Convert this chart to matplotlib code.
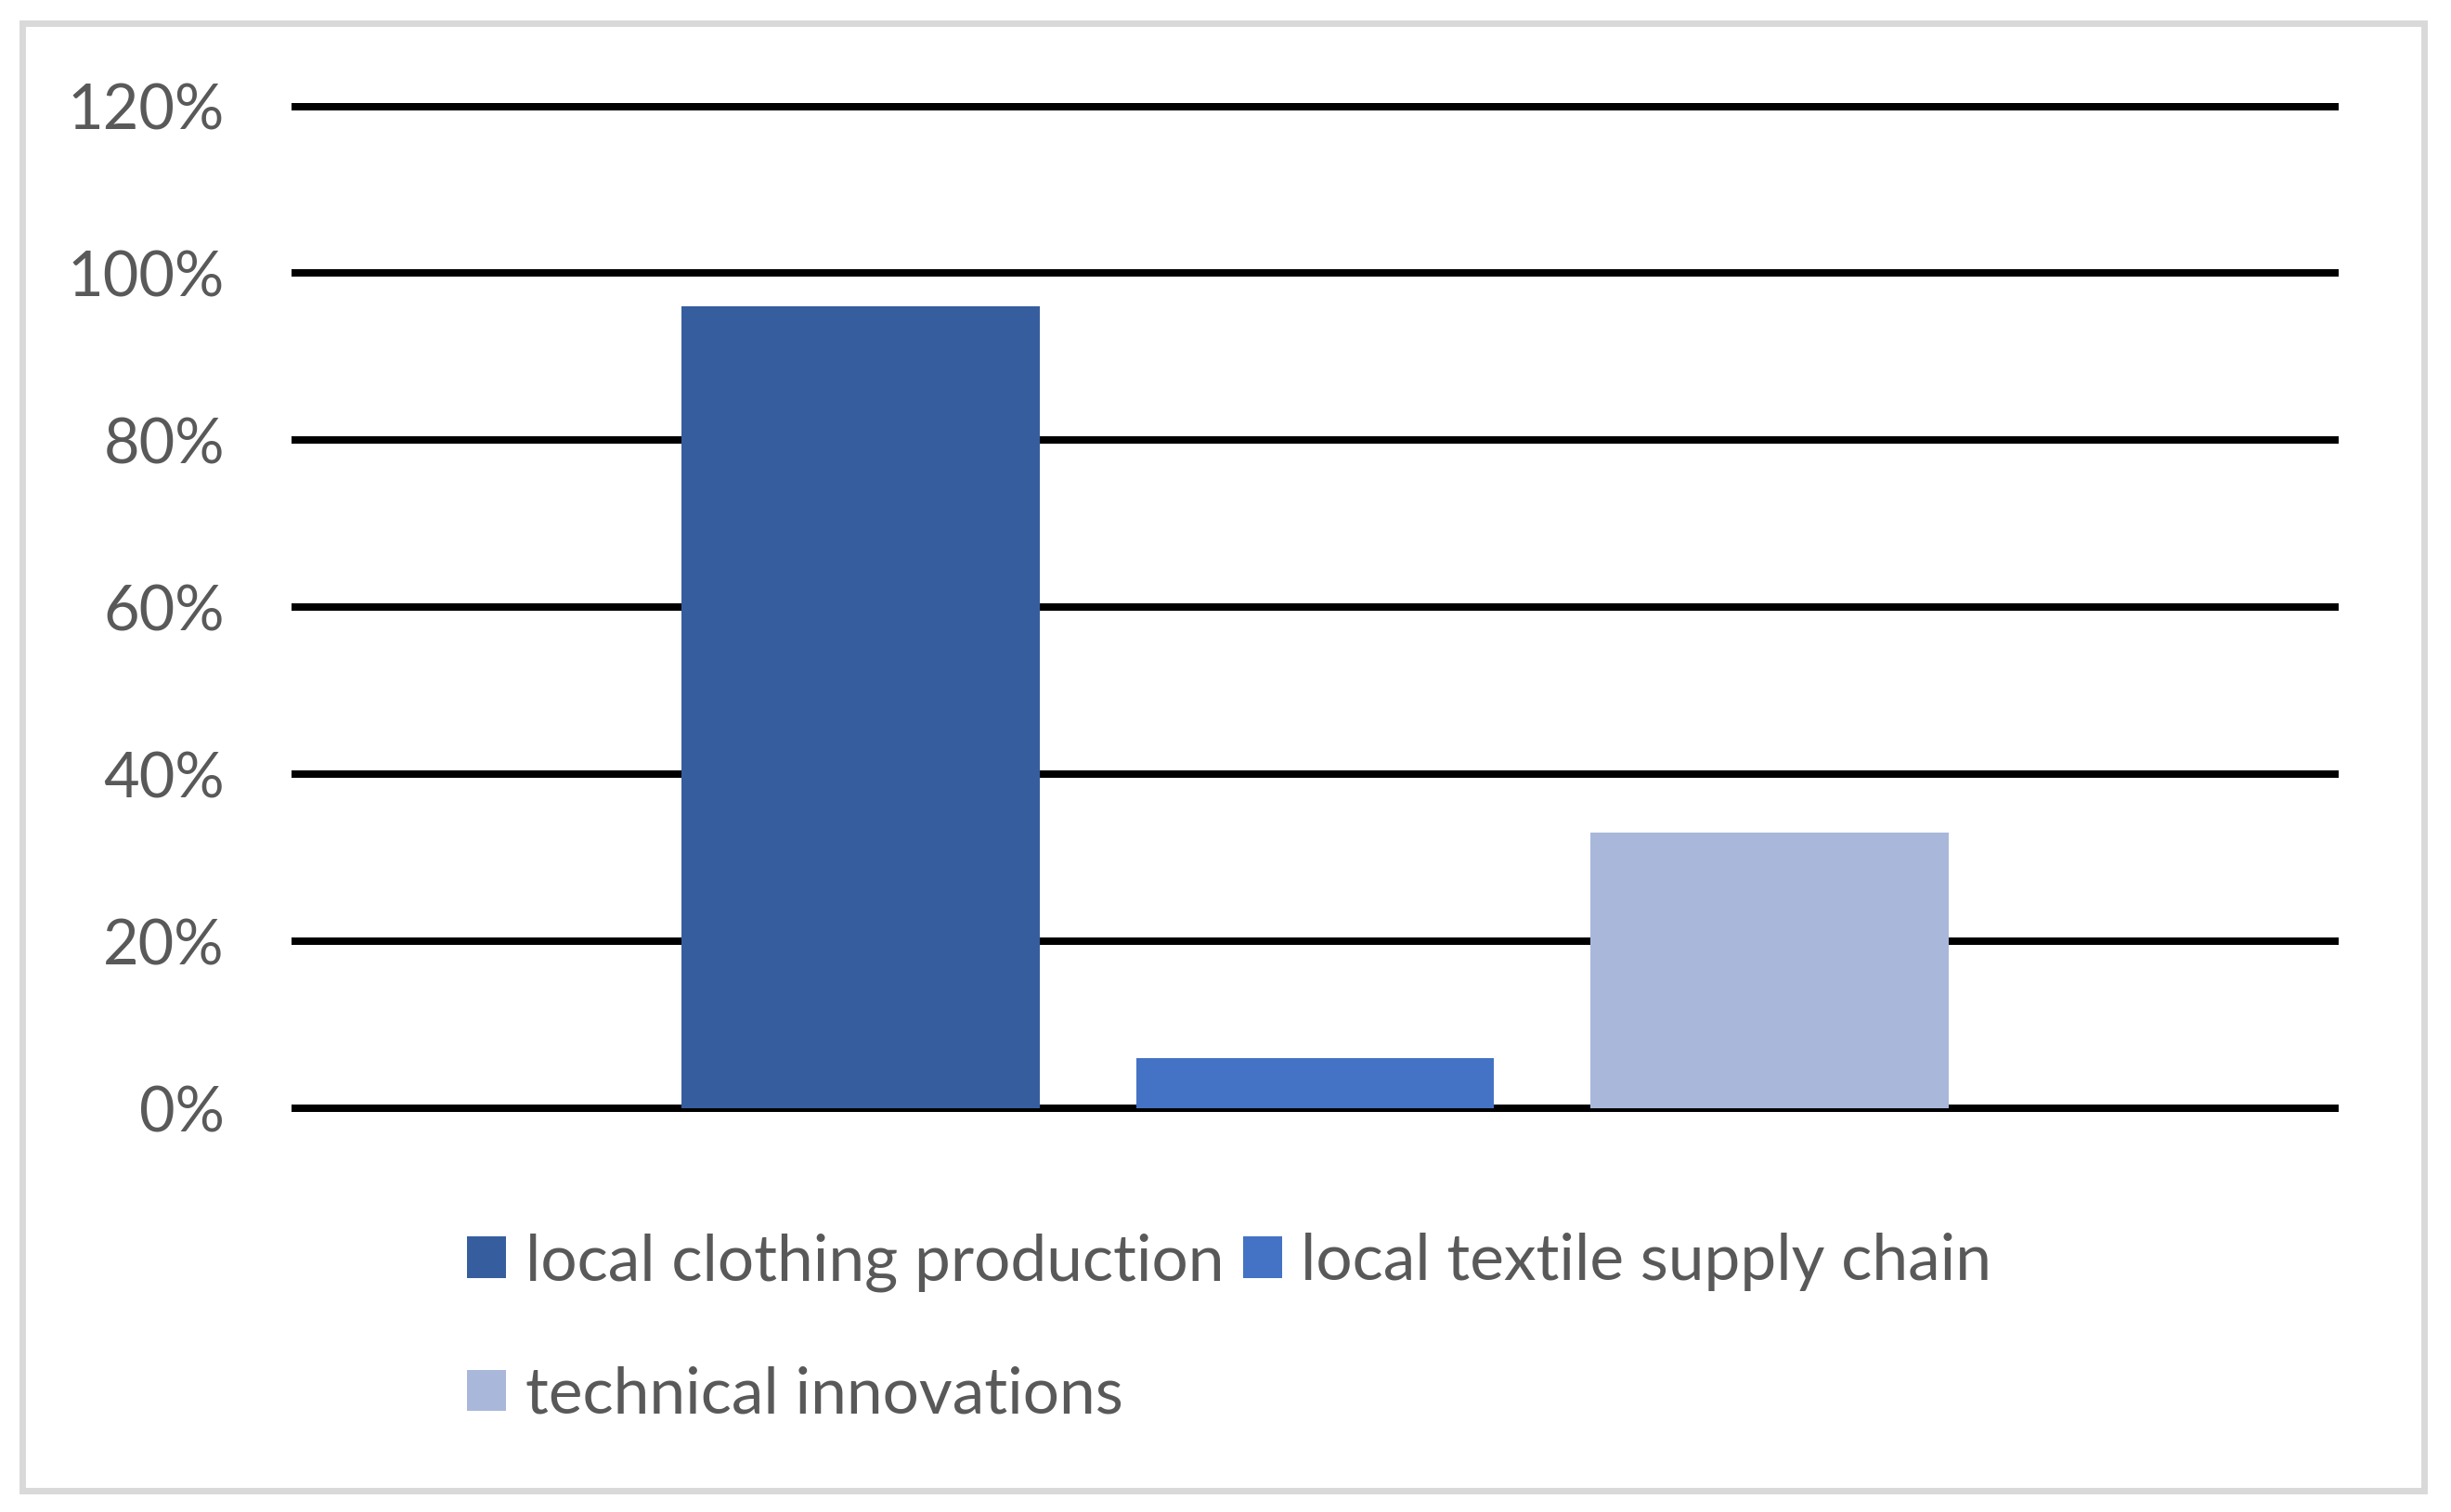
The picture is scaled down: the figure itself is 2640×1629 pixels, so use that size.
import matplotlib
matplotlib.use("Agg")
import matplotlib.pyplot as plt
from matplotlib.patches import Rectangle
from matplotlib.ticker import FuncFormatter
import numpy as np

# data
series = ["local clothing production", "local textile supply chain", "technical innovations"]
values = [0.96, 0.06, 0.33]
colours = ["#365E9F", "#4472C4", "#A9B8DA"]
yticks = [0, 0.2, 0.4, 0.6, 0.8, 1.0, 1.2]

plt.rcParams["font.family"] = ["Lato", "DejaVu Sans"]
plt.rcParams["lines.solid_capstyle"] = "butt"
txt = "#595959"

W, H = 2640, 1629
fig = plt.figure(figsize=(W / 100, H / 100), dpi=100)

# axes placed in pixels
x0, x1 = 314, 2519
y0, y1 = 1194, 114.6
ax = fig.add_axes([x0 / W, 1 - y0 / H, (x1 - x0) / W, (y0 - y1) / H])

bar_w = 0.175
pitch = 0.2218
offs = (np.arange(len(series)) - (len(series) - 1) / 2) * pitch
bars = []
for i in range(len(series)):
    b = ax.bar(offs[i], values[i], width=bar_w, color=colours[i], label=series[i], zorder=3)
    bars.append(b)

ax.set_xlim(-0.5, 0.5)
ax.set_ylim(0, 1.2)
ax.set_yticks(yticks)
ax.yaxis.set_major_formatter(FuncFormatter(lambda v, p: "%d%%" % round(v * 100)))
ax.set_xticks([])
ax.grid(axis="y", color="black", linewidth=5.76, zorder=0)
ax.set_axisbelow(True)
for gl in ax.get_ygridlines():
    gl.set_clip_on(False)
for s in ax.spines.values():
    s.set_visible(False)
ax.tick_params(axis="y", length=0, pad=52, labelsize=48, labelcolor=txt)

# legend: two rows, third item goes under the first
order = [0, 2, 1]
leg = fig.legend([bars[i] for i in order], [series[i] for i in order],
                 ncol=2, loc="upper left", bbox_to_anchor=(503 / W, 1 - 1328 / H),
                 frameon=False, fontsize=50, labelcolor=txt,
                 handlelength=0.6, handleheight=0.6, handletextpad=0.3,
                 columnspacing=0.3, labelspacing=1.15, borderpad=0, borderaxespad=0)

# outer frame
fig.patches.append(Rectangle((24 / W, 1 - 1605.5 / H), (2610.5 - 24) / W, (1605.5 - 24.5) / H,
                             transform=fig.transFigure, fill=False,
                             edgecolor="#D9D9D9", linewidth=5))

fig.savefig("out.png", dpi=100, facecolor="white")
